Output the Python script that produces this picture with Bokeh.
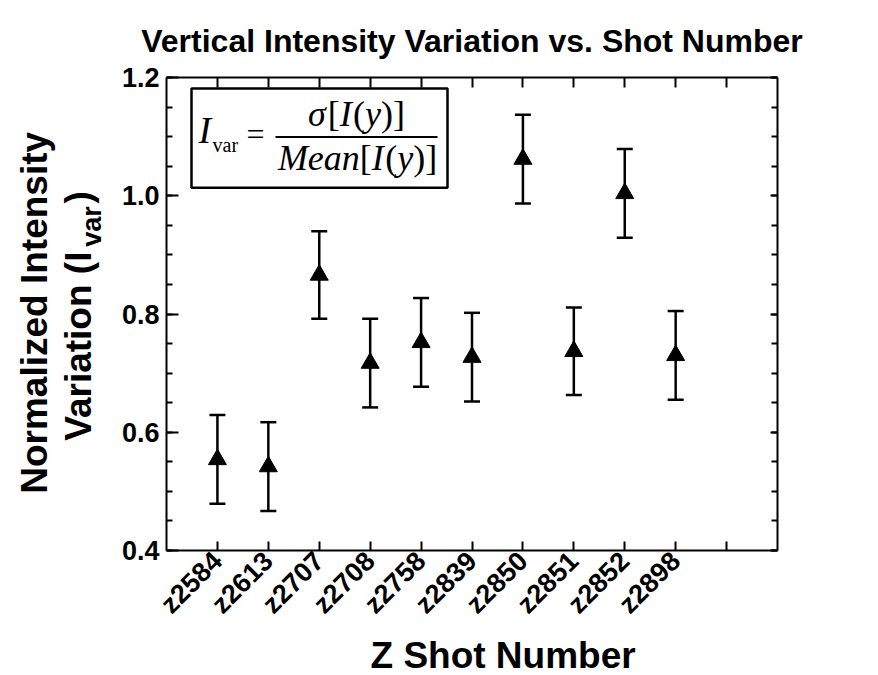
import math
from bokeh.plotting import figure
from bokeh.layouts import row
from bokeh.models import (Range1d, LinearAxis, FixedTicker, Whisker, Title,
                          TeeHead, ColumnDataSource, Label, BoxAnnotation, CustomJSTickFormatter)
from bokeh.embed import file_html
from bokeh.resources import INLINE

# ---- data ----
shots = ["z2584", "z2613", "z2707", "z2708", "z2758", "z2839", "z2850", "z2851", "z2852", "z2898"]
ivar = [0.554, 0.542, 0.866, 0.717, 0.752, 0.727, 1.062, 0.737, 1.004, 0.730]
ivar_err = [0.075, 0.075, 0.074, 0.075, 0.075, 0.075, 0.075, 0.074, 0.075, 0.075]
y_ticks = [0.4, 0.6, 0.8, 1.0, 1.2]
title_text = "Vertical Intensity Variation vs. Shot Number"
xlabel_text = "Z Shot Number"
ylabel_line1 = "Normalized Intensity"
ylabel_line2 = ["Variation (I", "var", ")"]

positions = list(range(1, len(shots) + 1))
src = ColumnDataSource(dict(
    x=positions, y=ivar,
    upper=[v + e for v, e in zip(ivar, ivar_err)],
    lower=[v - e for v, e in zip(ivar, ivar_err)],
))

W, H = 878, 675
LW = 110                      # width of the side panel holding the y title
FL, FR, FT, FB = 166, 777, 77, 553
XMIN, XMAX, YMIN, YMAX = 0, 12, 0.4, 1.2
BASE_FIX = 0.4                # em shift that puts Bokeh's alphabetic baseline where wanted


def dx(px):
    return XMIN + (px - FL) * (XMAX - XMIN) / (FR - FL)


def dy(py):
    return YMAX - (py - FT) * (YMAX - YMIN) / (FB - FT)


# ---------------- side panel with the two-line y title ----------------
p0 = figure(width=LW, height=H, output_backend="svg", toolbar_location=None,
            x_range=Range1d(0, LW), y_range=Range1d(FB, FT),
            x_axis_location=None, y_axis_location=None,
            min_border_left=0, min_border_right=0, min_border_top=FT, min_border_bottom=H - FB)
p0.grid.visible = False
p0.outline_line_color = None
p0.background_fill_color = "white"
p0.border_fill_color = "white"


def vlab(txt, bx, py, size):
    # rotated text reading upward; bx = baseline x in pixels, py = start (bottom) y in pixels
    p0.add_layout(Label(x=bx - BASE_FIX * size, y=py, text=txt, text_font="Liberation Sans",
                        text_font_size=f"{size}px", text_font_style="bold", text_align="left",
                        text_baseline="alphabetic", text_color="black", angle=math.pi / 2))


L1 = 37
l1w = 9.78 * L1
vlab(ylabel_line1, 49, 315 + l1w / 2, L1)
# (size, baseline offset, advance in em, extra gap after)
y2_sizes = [(37, 0, 5.168, 4), (27, 9, 1.501, 3), (37, 0, 0.333, 0)]
tot = sum(s * em + g for s, _, em, g in y2_sizes)
py = 317 + tot / 2
for txt, (s, off, em, g) in zip(ylabel_line2, y2_sizes):
    vlab(txt, 93 + off, py, s)
    py -= s * em + g

# ---------------- main plot ----------------
p = figure(width=W - LW, height=H, output_backend="svg", toolbar_location=None,
           x_range=Range1d(XMIN, XMAX), y_range=Range1d(YMIN, YMAX),
           x_axis_location=None, y_axis_location=None,
           min_border_left=FL - LW, min_border_right=W - FR, min_border_top=FT, min_border_bottom=H - FB)
p.xgrid.visible = False
p.ygrid.visible = False
p.outline_line_color = None
p.background_fill_color = "white"
p.border_fill_color = "white"

p.title = Title(text=title_text, align="center", text_font="Liberation Sans", text_font_size="32px",
                text_font_style="bold", text_color="black", standoff=37)

AXW = 2
blank = CustomJSTickFormatter(code="return ''")
minor_y = [round(YMIN + 0.05 * i, 2) for i in range(17)]

# left axis
la = LinearAxis(ticker=FixedTicker(ticks=y_ticks, minor_ticks=minor_y))
la.axis_line_width = AXW
la.major_tick_in = 12
la.major_tick_out = 0
la.minor_tick_in = 6
la.minor_tick_out = 0
la.major_tick_line_width = 2
la.minor_tick_line_width = 2
la.major_label_text_font = "Liberation Sans"
la.major_label_text_font_style = "bold"
la.major_label_text_font_size = "27px"
la.major_label_text_color = "black"
la.major_label_standoff = 7
la.major_label_overrides = {v: f"{v:.1f}" for v in y_ticks}
p.add_layout(la, "left")

# right axis
ra = LinearAxis(ticker=FixedTicker(ticks=y_ticks, minor_ticks=minor_y), formatter=blank)
ra.axis_line_width = AXW
ra.major_tick_in = 7
ra.major_tick_out = 0
ra.minor_tick_in = 6
ra.minor_tick_out = 0
ra.major_tick_line_width = 2
ra.minor_tick_line_width = 2
ra.major_label_text_font_size = "1px"
p.add_layout(ra, "right")

tick_pos = positions + [len(shots) + 1]

# bottom axis
ba = LinearAxis(ticker=FixedTicker(ticks=tick_pos, minor_ticks=[]))
ba.axis_line_width = AXW
ba.major_tick_in = 9
ba.major_tick_out = 0
ba.major_tick_line_width = 2
ba.minor_tick_line_color = None
ba.major_label_overrides = {**{i: s for i, s in zip(positions, shots)}, len(shots) + 1: ""}
ba.major_label_orientation = math.pi / 4
ba.major_label_text_font = "Liberation Sans"
ba.major_label_text_font_style = "bold"
ba.major_label_text_font_size = "27px"
ba.major_label_text_color = "black"
ba.major_label_standoff = 6
p.add_layout(ba, "below")

p.add_layout(Title(text=xlabel_text, align="left", offset=370 - FL, text_font="Liberation Sans",
                   text_font_size="37px", text_font_style="bold", text_color="black", standoff=0),
             "below")

# top axis
ta = LinearAxis(ticker=FixedTicker(ticks=tick_pos, minor_ticks=[]), formatter=blank)
ta.axis_line_width = AXW
ta.major_tick_in = 10
ta.major_tick_out = 0
ta.major_tick_line_width = 2
ta.minor_tick_line_color = None
ta.major_label_text_font_size = "1px"
ta.major_label_standoff = 0
p.add_layout(ta, "above")

# error bars and markers
p.add_layout(Whisker(source=src, base="x", upper="upper", lower="lower",
                     line_width=2.5, line_color="black",
                     upper_head=TeeHead(size=16, line_width=2.5, line_color="black"),
                     lower_head=TeeHead(size=16, line_width=2.5, line_color="black")))
p.scatter("x", "y", source=src, marker="triangle", size=18, fill_color="black", line_color="black")


def lab(txt, px, py, size, font="Liberation Serif", style="normal"):
    p.add_layout(Label(x=dx(px), y=dy(py - BASE_FIX * size), text=txt, text_font=font,
                       text_font_size=f"{size}px", text_font_style=style, text_align="left",
                       text_baseline="alphabetic", text_color="black"))


# formula box
p.add_layout(BoxAnnotation(left=dx(191), right=dx(447), top=dy(88), bottom=dy(188),
                           fill_alpha=0, line_color="black", line_alpha=1, line_width=2.5))


def serif_run(pieces, x_px, base_px):
    x = x_px
    for txt, size, style, em, off in pieces:
        lab(txt, x, base_px + off, size, style=style)
        x += em * size


serif_run([("I", 38, "italic", 0.37, 0), ("var", 20, "normal", 1.277, 8)], 198, 145)
lab("=", 246, 147, 32)
p.segment(x0=[dx(275)], y0=[dy(137)], x1=[dx(437)], y1=[dy(137)], line_color="black", line_width=2)

num = [("σ", 36, "italic", 0.55, 0), ("[", 36, "normal", 0.333, 0), ("I", 36, "italic", 0.37, 0),
       ("(", 36, "normal", 0.333, 0), ("y", 36, "italic", 0.444, 0), (")", 36, "normal", 0.333, 0),
       ("]", 36, "normal", 0.333, 0)]
nw = sum(e * s for _, s, _, e, _ in num)
serif_run(num, 356 - nw / 2, 128)
den = [("Mean", 36, "italic", 2.277, 0), ("[", 36, "normal", 0.333, 0), ("I", 36, "italic", 0.37, 0),
       ("(", 36, "normal", 0.333, 0), ("y", 36, "italic", 0.444, 0), (")", 36, "normal", 0.333, 0),
       ("]", 36, "normal", 0.333, 0)]
dw = sum(e * s for _, s, _, e, _ in den)
serif_run(den, 357 - dw / 2, 172)

layout = row(p0, p, spacing=0)
open("out.html", "w").write(file_html(layout, INLINE))
